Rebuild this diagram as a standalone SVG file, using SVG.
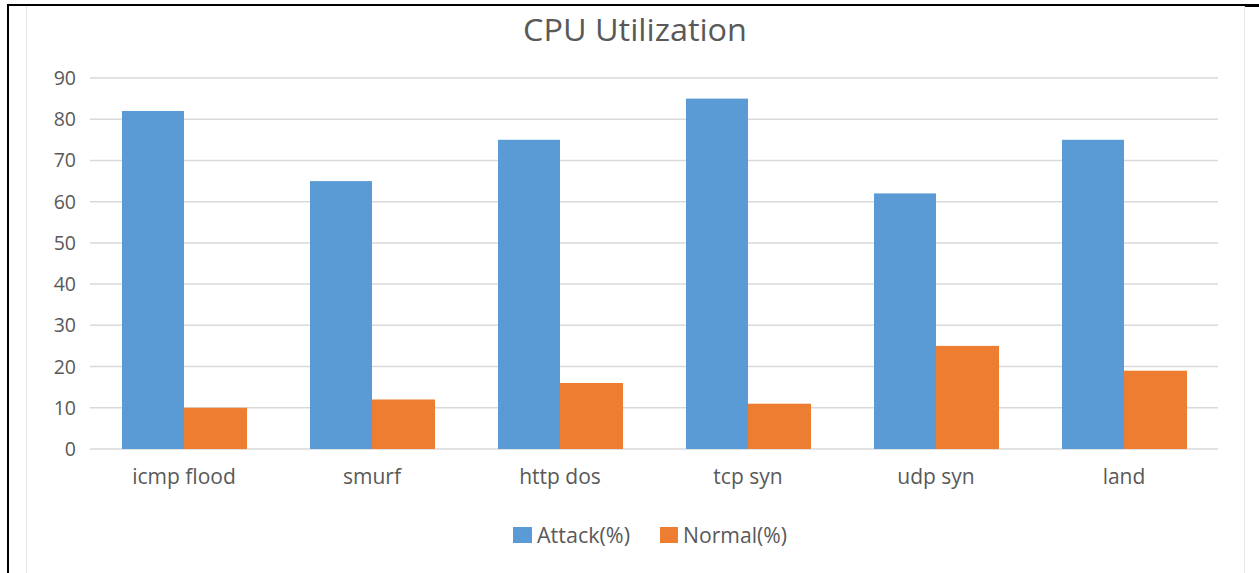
<svg xmlns="http://www.w3.org/2000/svg" width="1259" height="573" viewBox="0 0 1259 573">
<style>
.grid{stroke:#D9D9D9;stroke-width:1.5;}
.atk{fill:#5B9BD5;}
.nrm{fill:#ED7D31;}
.lbl{font-family:"Open Sans","Noto Sans",sans-serif;font-size:21px;fill:#595959;}
.ytk{font-family:"Open Sans","Noto Sans",sans-serif;font-size:19.5px;fill:#595959;text-anchor:end;}
.xtk{font-family:"Open Sans","Noto Sans",sans-serif;font-size:21px;fill:#595959;text-anchor:middle;}
</style>
<rect x="0" y="0" width="1259" height="573" fill="#ffffff"/>
<g id="frame">
<line x1="7" y1="5" x2="1259" y2="5" stroke="#000" stroke-width="2"/>
<line x1="1245" y1="6" x2="1259" y2="6" stroke="#000" stroke-width="2"/>
<line x1="8" y1="5" x2="8" y2="573" stroke="#000" stroke-width="2"/>
<line x1="26.5" y1="6" x2="26.5" y2="573" stroke="#E6E6E6" stroke-width="1"/>
<line x1="1244.5" y1="6" x2="1244.5" y2="573" stroke="#E6E6E6" stroke-width="1"/>
</g>
<g id="title"><text x="635" y="41" text-anchor="middle" textLength="224" lengthAdjust="spacingAndGlyphs" style="font-family:'Open Sans','Noto Sans',sans-serif;font-size:31px;fill:#595959;">CPU Utilization</text></g>
<g id="gridlines">
<line class="grid" x1="90" y1="78" x2="1218" y2="78"/>
<line class="grid" x1="90" y1="119.2" x2="1218" y2="119.2"/>
<line class="grid" x1="90" y1="160.4" x2="1218" y2="160.4"/>
<line class="grid" x1="90" y1="201.7" x2="1218" y2="201.7"/>
<line class="grid" x1="90" y1="242.9" x2="1218" y2="242.9"/>
<line class="grid" x1="90" y1="284.1" x2="1218" y2="284.1"/>
<line class="grid" x1="90" y1="325.3" x2="1218" y2="325.3"/>
<line class="grid" x1="90" y1="366.6" x2="1218" y2="366.6"/>
<line class="grid" x1="90" y1="407.8" x2="1218" y2="407.8"/>
<line class="grid" x1="90" y1="449" x2="1218" y2="449"/>
</g>
<g id="yaxis">
<text class="ytk" x="76" y="85">90</text>
<text class="ytk" x="76" y="126">80</text>
<text class="ytk" x="76" y="167">70</text>
<text class="ytk" x="76" y="209">60</text>
<text class="ytk" x="76" y="250">50</text>
<text class="ytk" x="76" y="291">40</text>
<text class="ytk" x="76" y="332">30</text>
<text class="ytk" x="76" y="374">20</text>
<text class="ytk" x="76" y="415">10</text>
<text class="ytk" x="76" y="456">0</text>
</g>
<g id="bars">
<rect class="atk" x="122" y="111" width="62" height="338"/>
<rect class="nrm" x="184" y="407.8" width="63" height="41.2"/>
<rect class="atk" x="310" y="181.1" width="62" height="267.9"/>
<rect class="nrm" x="372" y="399.5" width="63" height="49.5"/>
<rect class="atk" x="498" y="139.8" width="62" height="309.2"/>
<rect class="nrm" x="560" y="383" width="63" height="66"/>
<rect class="atk" x="686" y="98.6" width="62" height="350.4"/>
<rect class="nrm" x="748" y="403.7" width="63" height="45.3"/>
<rect class="atk" x="874" y="193.4" width="62" height="255.6"/>
<rect class="nrm" x="936" y="345.9" width="63" height="103.1"/>
<rect class="atk" x="1062" y="139.8" width="62" height="309.2"/>
<rect class="nrm" x="1124" y="370.7" width="63" height="78.3"/>
</g>
<g id="xaxis">
<text class="xtk" x="184" y="484">icmp flood</text>
<text class="xtk" x="372" y="484">smurf</text>
<text class="xtk" x="560" y="484">http dos</text>
<text class="xtk" x="748" y="484">tcp syn</text>
<text class="xtk" x="936" y="484">udp syn</text>
<text class="xtk" x="1124" y="484">land</text>
</g>
<g id="legend">
<rect class="atk" x="513" y="527" width="19" height="16"/>
<text class="lbl" x="537" y="543" textLength="93" lengthAdjust="spacingAndGlyphs">Attack(%)</text>
<rect class="nrm" x="660" y="527" width="18" height="16"/>
<text class="lbl" x="683" y="543" textLength="104" lengthAdjust="spacingAndGlyphs">Normal(%)</text>
</g>
</svg>
